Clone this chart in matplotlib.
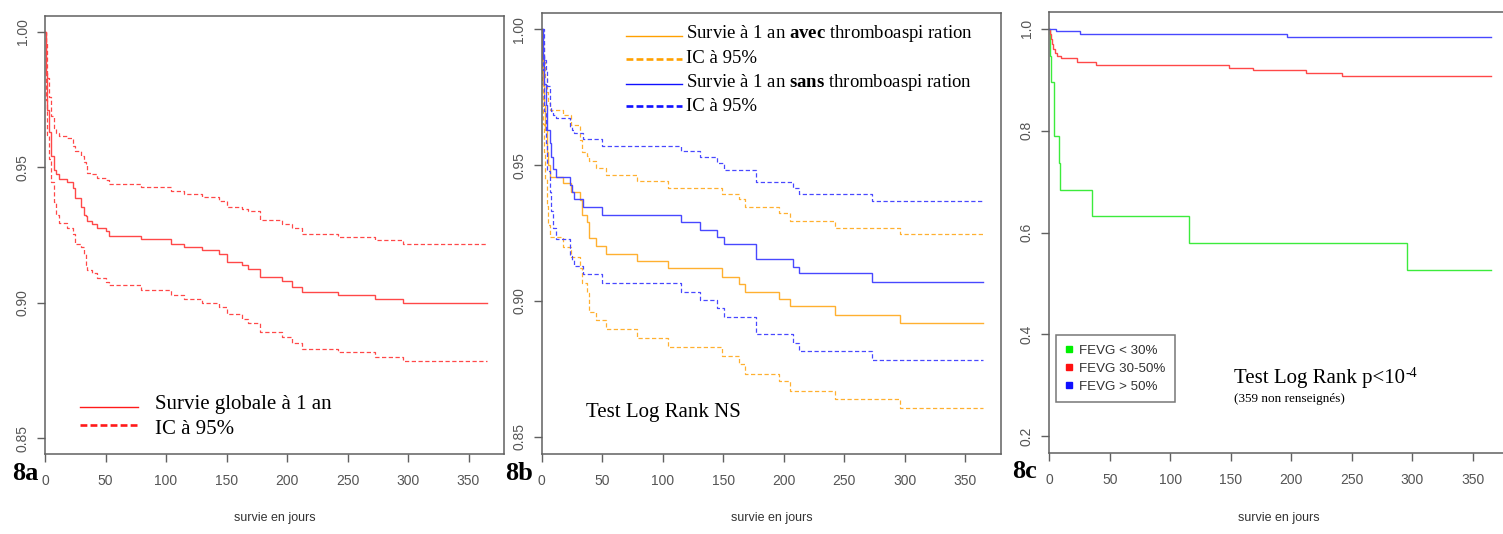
import matplotlib
matplotlib.use("Agg")
import matplotlib.pyplot as plt
from matplotlib.lines import Line2D

plt.rcParams['mathtext.fontset'] = 'custom'
plt.rcParams['mathtext.rm'] = 'Liberation Serif'
plt.rcParams['mathtext.bf'] = 'Liberation Serif:bold'
plt.rcParams['mathtext.it'] = 'Liberation Serif:italic'

# ---------------- data ----------------
END_DAY = 365

# 8a : overall survival
t_a = [0, 0.5, 1.4, 3.6, 5.3, 7.2, 9, 11.3, 18.3, 23, 25, 30, 32, 34, 35, 38.6, 43, 50, 53,
       79, 104.5, 115, 130, 144, 150, 163, 168, 177.4, 196, 204.5, 212, 242, 273, 296]
surv_a = [1.0, 0.985, 0.971, 0.963, 0.954, 0.949, 0.9476, 0.9458, 0.9446, 0.9422, 0.9388, 0.9355,
          0.9325, 0.932, 0.930, 0.929, 0.9277, 0.9263, 0.9248, 0.9236, 0.9218, 0.9205, 0.9193,
          0.9178, 0.915, 0.9139, 0.9125, 0.9095, 0.908, 0.9059, 0.9039, 0.9027, 0.9012, 0.900]
up_a = [1.0, 0.996, 0.983, 0.976, 0.969, 0.9645, 0.9627, 0.9617, 0.961, 0.958, 0.956, 0.9542,
        0.952, 0.951, 0.948, 0.9476, 0.946, 0.9452, 0.9439, 0.9428, 0.9414, 0.9402, 0.939,
        0.9377, 0.9353, 0.9347, 0.934, 0.9304, 0.9291, 0.9275, 0.9255, 0.9242, 0.923, 0.9218]
lo_a = [1.0, 0.975, 0.962, 0.953, 0.9446, 0.9373, 0.9325, 0.9295, 0.9277, 0.9253, 0.9217, 0.9205,
        0.918, 0.9139, 0.912, 0.9108, 0.909, 0.9078, 0.9064, 0.9046, 0.9028, 0.9012, 0.8998,
        0.8985, 0.8957, 0.8939, 0.8924, 0.8893, 0.8875, 0.8852, 0.883, 0.8818, 0.880, 0.8785]

# 8b : avec thromboaspiration
t_avec = [0, 0.5, 1.2, 2, 3, 4.5, 5.5, 7, 17.6, 24, 31.4, 33, 37.5, 39.5, 44.5, 53, 78.8,
          104.4, 148.8, 163.3, 168, 196.2, 205.6, 242.2, 296]
surv_avec = [1.0, 0.99, 0.98, 0.972, 0.963, 0.955, 0.95, 0.9458, 0.9435, 0.9403, 0.937, 0.9316,
             0.929, 0.9232, 0.9204, 0.9174, 0.9147, 0.912, 0.909, 0.9062, 0.9035, 0.9006,
             0.898, 0.8948, 0.892]
up_avec = [1.0, 1.0, 0.995, 0.988, 0.982, 0.977, 0.973, 0.9703, 0.9685, 0.9648, 0.9593, 0.955,
           0.9535, 0.9514, 0.9488, 0.9464, 0.9441, 0.9416, 0.9394, 0.9374, 0.9345, 0.9323,
           0.9296, 0.927, 0.9245]
lo_avec = [1.0, 0.98, 0.965, 0.955, 0.945, 0.935, 0.928, 0.9235, 0.9198, 0.9163, 0.912, 0.9065,
           0.9028, 0.896, 0.893, 0.8896, 0.8863, 0.8832, 0.8798, 0.8767, 0.8731, 0.8706,
           0.867, 0.8638, 0.8605]

# 8b : sans thromboaspiration
t_sans = [0, 0.8, 1.6, 3.9, 4.7, 6.6, 8, 9.5, 12.1, 23.1, 25.3, 26.4, 34.2, 50.1, 115.4,
          130.6, 145, 150.5, 177.5, 207.8, 212.5, 273]
surv_sans = [1.0, 0.99, 0.98, 0.972, 0.963, 0.958, 0.953, 0.9484, 0.9455, 0.9427, 0.94, 0.9374,
             0.9345, 0.9318, 0.9292, 0.9262, 0.9236, 0.921, 0.9153, 0.9126, 0.9102, 0.9071]
up_sans = [1.0, 1.0, 0.9887, 0.985, 0.979, 0.9715, 0.970, 0.9685, 0.9675, 0.9642, 0.963, 0.9617,
           0.9595, 0.9572, 0.9552, 0.9529, 0.9507, 0.9482, 0.9439, 0.9415, 0.9394, 0.9368]
lo_sans = [1.0, 0.985, 0.97, 0.958, 0.948, 0.94, 0.933, 0.927, 0.923, 0.9166, 0.915, 0.913,
           0.91, 0.9065, 0.9035, 0.9004, 0.8973, 0.8942, 0.8879, 0.8844, 0.8816, 0.8783]

# 8c : by FEVG
fevg_labels = ["FEVG < 30%", "FEVG 30-50%", "FEVG > 50%"]
t_low = [0, 0.3, 1.4, 4.2, 8, 8.8, 35, 115.5, 296]
surv_low = [1.0, 0.947, 0.895, 0.79, 0.737, 0.684, 0.632, 0.579, 0.526]
t_mid = [0, 0.8, 1.5, 2.3, 3.3, 4.7, 6.1, 9.7, 23.2, 38.6, 148.8, 168.1, 212.2, 242.2]
surv_mid = [1.0, 0.99, 0.98, 0.97, 0.96, 0.952, 0.947, 0.943, 0.934, 0.9278, 0.9232, 0.9186,
            0.9134, 0.9068]
t_high = [0, 5.5, 25.4, 196.2]
surv_high = [1.0, 0.9954, 0.990, 0.9836]

xticks = [0, 50, 100, 150, 200, 250, 300, 350]
yticks_ab = [0.85, 0.90, 0.95, 1.00]
yticks_c = [0.2, 0.4, 0.6, 0.8, 1.0]

# ---------------- figure ----------------
W, H = 1503, 534
fig = plt.figure(figsize=(W / 100, H / 100), dpi=100)

SERIF = 'Liberation Serif'
SANS = 'Liberation Sans'
XMAX = 379.6
PX_PER_DAY = 1.21


def fx(px):
    return px / W


def fy(py):
    return 1 - py / H


def make_ax(left, top, bottom, ylim, yticks, ylabels):
    width = XMAX * PX_PER_DAY
    ax = fig.add_axes([fx(left), fy(bottom), width / W, (bottom - top) / H])
    ax.set_xlim(0, XMAX)
    ax.set_ylim(*ylim)
    ax.set_xticks(xticks)
    ax.set_xticklabels([str(v) for v in xticks])
    ax.set_yticks(yticks)
    ax.set_yticklabels(ylabels)
    for s in ax.spines.values():
        s.set_color('#606060')
        s.set_linewidth(1.1)
    ax.tick_params(axis='both', direction='out', length=5.5, width=1.0, color='#606060',
                   labelsize=10, labelcolor='#555555')
    ax.tick_params(axis='x', pad=8.8)
    ax.tick_params(axis='y', pad=5.6)
    for lab in ax.get_yticklabels():
        lab.set_rotation(90)
        lab.set_va('center')
        lab.set_fontfamily(SANS)
    for lab in ax.get_xticklabels():
        lab.set_fontfamily(SANS)
    ax.set_xlabel('survie en jours', fontsize=9, color='#333333', family=SANS)
    ax.xaxis.set_label_coords(0.5, -(517.5 - bottom) / (bottom - top))
    ax.xaxis.label.set_va('center')
    return ax


def km(ax, t, s, color, dashed=False, lw=1.0):
    tt = list(t) + [END_DAY]
    ss = list(s) + [s[-1]]
    line, = ax.step(tt, ss, where='post', color=color, lw=lw, solid_joinstyle='miter')
    if dashed:
        line.set_dashes((3.4, 2.0))
    return line


RED = '#FF4848'
ORANGE = '#FFB030'
BLUE = '#4848FF'
GREEN = '#3CEB3C'

# ---- 8a ----
axa = make_ax(45, 15.7, 454.3, (0.844, 1.006), yticks_ab, ['0.85', '0.90', '0.95', '1.00'])
km(axa, t_a, surv_a, RED)
km(axa, t_a, up_a, RED, dashed=True, lw=0.9)
km(axa, t_a, lo_a, RED, dashed=True, lw=0.9)

# ---- 8b ----
axb = make_ax(541.7, 12.7, 454.0, (0.8437, 1.0061), yticks_ab, ['0.85', '0.90', '0.95', '1.00'])
km(axb, t_avec, surv_avec, ORANGE)
km(axb, t_avec, up_avec, ORANGE, dashed=True, lw=0.9)
km(axb, t_avec, lo_avec, ORANGE, dashed=True, lw=0.9)
km(axb, t_sans, surv_sans, BLUE)
km(axb, t_sans, up_sans, BLUE, dashed=True, lw=0.9)
km(axb, t_sans, lo_sans, BLUE, dashed=True, lw=0.9)

# ---- 8c ----
axc = make_ax(1049.3, 12.3, 452.7, (0.168, 1.032), yticks_c, ['0.2', '0.4', '0.6', '0.8', '1.0'])
km(axc, t_low, surv_low, GREEN)
km(axc, t_mid, surv_mid, RED)
km(axc, t_high, surv_high, BLUE)

handles = [Line2D([], [], marker='s', linestyle='none', color=c, markersize=4.3)
           for c in ['#00F000', '#FF1010', '#1010FF']]
axc_w = XMAX * PX_PER_DAY
leg = axc.legend(handles, fevg_labels, loc='upper left',
                 bbox_to_anchor=((1056 - 1049.3) / axc_w, (452.7 - 335) / (452.7 - 12.3)),
                 borderaxespad=0, frameon=True, fancybox=False, handlelength=0.6,
                 handletextpad=0.45, borderpad=0.7, labelspacing=0.42,
                 prop={'family': SANS, 'size': 9.6})
leg.get_frame().set_edgecolor('#555555')
leg.get_frame().set_linewidth(1.1)
for txt in leg.get_texts():
    txt.set_color('#333333')

# ---------------- legends / annotations (figure pixel positions) ----------------
def legend_line(x0, x1, y, color, dashed, lw):
    ln = Line2D([fx(x0), fx(x1)], [fy(y), fy(y)], transform=fig.transFigure, color=color, lw=lw)
    if dashed:
        ln.set_dashes((2.6, 1.2))
    fig.add_artist(ln)


legend_line(80, 138, 407.3, '#FF1A1A', False, 1.0)
legend_line(80, 138, 425.3, '#FF1A1A', True, 1.9)
fig.text(fx(155), fy(404), 'Survie globale à 1 an', family=SERIF, fontsize=15, va='center')
fig.text(fx(155), fy(430), 'IC à 95%', family=SERIF, fontsize=15, va='center')

legend_line(626, 681.7, 36, '#FFA000', False, 1.0)
legend_line(626, 681.7, 59, '#FFA000', True, 1.9)
legend_line(626, 681.7, 84, '#1010FF', False, 1.0)
legend_line(626, 681.7, 106, '#1010FF', True, 1.9)
fig.text(fx(686), fy(34), r'Survie à 1 an $\mathbf{avec}$ thromboaspi ration', family=SERIF,
         fontsize=13.5, va='center')
fig.text(fx(686), fy(58.6), 'IC à 95%', family=SERIF, fontsize=13.5, va='center')
fig.text(fx(686), fy(82.2), r'Survie à 1 an $\mathbf{sans}$ thromboaspi ration', family=SERIF,
         fontsize=13.5, va='center')
fig.text(fx(686), fy(106.3), 'IC à 95%', family=SERIF, fontsize=13.5, va='center')

fig.text(fx(586), fy(413), 'Test Log Rank NS', family=SERIF, fontsize=15, va='center')

t_main = fig.text(fx(1234), fy(379), 'Test Log Rank p<10', family=SERIF, fontsize=15,
                  va='center')
axc.annotate('-4', xy=(1, 1), xycoords=t_main, xytext=(0.5, 1.5),
             textcoords='offset points', family=SERIF, fontsize=10, va='top', ha='left',
             annotation_clip=False)
fig.text(fx(1234), fy(399.3), '(359 non renseignés)', family=SERIF, fontsize=9.5, va='center')

for lab, x, y in [('8a', 11.7, 473.5), ('8b', 505, 473.5), ('8c', 1011.7, 471.5)]:
    fig.text(fx(x), fy(y), lab, family=SERIF, fontsize=19, fontweight='bold', va='center')

fig.savefig('out.png', dpi=100)
